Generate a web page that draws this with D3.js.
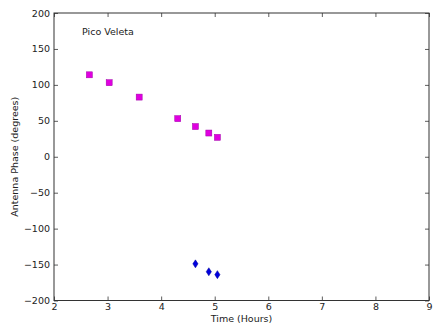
<!DOCTYPE html>
<html>
<head>
<meta charset="utf-8">
<script src="https://cdn.jsdelivr.net/npm/d3@7"></script>
<style>
  html, body { margin: 0; padding: 0; background: #fff; }
  svg text { font-family: "DejaVu Sans", sans-serif; fill: #222; }
</style>
</head>
<body>
<svg id="chart" width="433" height="330"></svg>
<script>
// Antenna phase measurements at Pico Veleta
const squareTimes  = [2.66, 3.03, 3.59, 4.31, 4.64, 4.89, 5.05];
const squarePhases = [114, 103, 83, 53, 42, 33, 27];
const diamondTimes  = [4.64, 4.89, 5.05];
const diamondPhases = [-149, -160, -164];
const xTicks = [2, 3, 4, 5, 6, 7, 8, 9];
const yTicks = [-200, -150, -100, -50, 0, 50, 100, 150, 200];

const svg = d3.select("#chart");
const m = { left: 54, top: 13, right: 429, bottom: 300.5 };

const x = d3.scaleLinear().domain([2, 9]).range([m.left, m.right]);
const y = d3.scaleLinear().domain([-200, 200]).range([m.bottom, m.top]);

const axisColor = "#333";
const tickLen = 4;

// Tick labels and inward tick marks on all four sides
const gb = svg.append("g").attr("transform", `translate(0,${m.bottom})`)
  .call(d3.axisBottom(x).tickValues(xTicks).tickSizeInner(-tickLen).tickSizeOuter(0).tickPadding(3)
    .tickFormat(d3.format("d")));
const gt = svg.append("g").attr("transform", `translate(0,${m.top})`)
  .call(d3.axisTop(x).tickValues(xTicks).tickSizeInner(-tickLen).tickSizeOuter(0).tickFormat(""));
const gl = svg.append("g").attr("transform", `translate(${m.left},0)`)
  .call(d3.axisLeft(y).tickValues(yTicks).tickSizeInner(-tickLen).tickSizeOuter(0).tickPadding(4)
    .tickFormat(d => d < 0 ? "\u2212" + Math.abs(d) : d));
const gr = svg.append("g").attr("transform", `translate(${m.right},0)`)
  .call(d3.axisRight(y).tickValues(yTicks).tickSizeInner(-tickLen).tickSizeOuter(0).tickFormat(""));

[gb, gt, gl, gr].forEach(g => {
  g.select(".domain").remove();
  g.selectAll(".tick line").attr("stroke", axisColor).attr("stroke-width", 0.8);
  g.selectAll(".tick text").attr("font-size", 9.5).attr("font-family", "DejaVu Sans, sans-serif").attr("fill", "#222");
});

// Frame
svg.append("rect")
  .attr("x", m.left).attr("y", m.top)
  .attr("width", m.right - m.left).attr("height", m.bottom - m.top)
  .attr("fill", "none").attr("stroke", axisColor).attr("stroke-width", 1);

// Square markers
svg.append("g").selectAll("rect")
  .data(squareTimes.map((t, i) => [t, squarePhases[i]]))
  .join("rect")
  .attr("x", d => x(d[0]) - 3).attr("y", d => y(d[1]) - 3)
  .attr("width", 6).attr("height", 6)
  .attr("fill", "#e000e0").attr("stroke", "#a000a8").attr("stroke-width", 0.5);

// Thin diamond markers
svg.append("g").selectAll("path")
  .data(diamondTimes.map((t, i) => [t, diamondPhases[i]]))
  .join("path")
  .attr("transform", d => `translate(${x(d[0])},${y(d[1])})`)
  .attr("d", "M0,-4L2.6,0L0,4L-2.6,0Z")
  .attr("fill", "#0000e0").attr("stroke", "#000090").attr("stroke-width", 0.5);

// Annotation
svg.append("text").attr("x", 82).attr("y", 34.5)
  .attr("font-size", 9.5).text("Pico Veleta");

// Axis titles
svg.append("text").attr("x", (m.left + m.right) / 2).attr("y", 322)
  .attr("text-anchor", "middle").attr("font-size", 9.5).text("Time (Hours)");
svg.append("text")
  .attr("transform", `translate(18,${(m.top + m.bottom) / 2}) rotate(-90)`)
  .attr("text-anchor", "middle").attr("font-size", 9.5).text("Antenna Phase (degrees)");
</script>
</body>
</html>
